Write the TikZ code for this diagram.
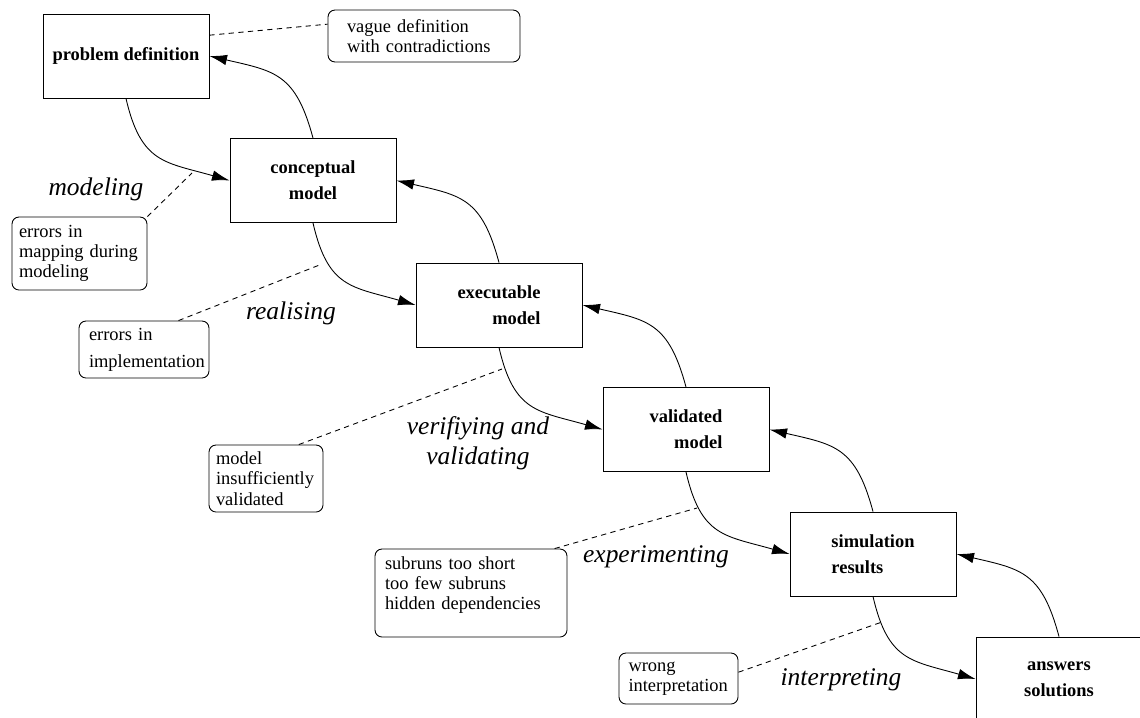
\documentclass[tikz,border=0pt]{standalone}
\usepackage{fontspec}
\setmainfont{Liberation Serif}
\usetikzlibrary{arrows.meta}
\hyphenpenalty=10000

\begin{document}
\begin{tikzpicture}[
	stage/.style={draw,line width=0.5pt,minimum width=3.32cm,minimum height=1.68cm,inner sep=0pt,align=center,font=\fontsize{10.5}{15}\selectfont\bfseries},
	note/.style={draw,line width=0.5pt,rounded corners=4pt,inner xsep=0.2cm,inner ysep=0pt,align=left,font=\fontsize{10.5}{11.5}\selectfont},
	act/.style={align=center,font=\fontsize{14.5}{17}\selectfont\itshape},
	flow/.style={-{Latex[length=10pt,width=6pt]},line width=0.5pt,looseness=1.3},
	link/.style={line width=0.5pt,dash pattern=on 3pt off 2.5pt}]
				\path[use as bounding box,clip] (0,0) rectangle (22.8,-14.34);
				% stages
				\node[stage] (problem) at (2.52,-1.12) {problem definition};
				\node[stage] (concept) at (6.26,-3.61) {conceptual\\model};
				\node[stage,align=right] (exec) at (9.98,-6.10) {executable\\model};
				\node[stage,align=right] (valid) at (13.72,-8.59) {validated\\model};
				\node[stage,align=left] (sim) at (17.46,-11.08) {simulation\\results};
				\node[stage] (answer) at (21.18,-13.58) {answers\\solutions};
				% activities
				\node[act] (modeling) at (1.92,-3.78) {modeling};
				\node[act] (realising) at (5.82,-6.26) {realising};
				\node[act] (verifying) at (9.56,-8.86) {verifiying and\\validating};
				\node[act] (experimenting) at (13.12,-11.14) {experimenting};
				\node[act] (interpreting) at (16.82,-13.6) {interpreting};
				% error notes
				\node[note,text width=3.08cm,inner xsep=0.38cm,minimum height=1.04cm] (vague) at (8.48,-0.72) {vague definition\\with contradictions};
				\node[note,text width=2.42cm,inner xsep=0.14cm,minimum height=1.46cm] (mapping) at (1.59,-5.07) {errors in\\mapping during\\modeling};
				\node[note,text width=2.2cm,minimum height=1.14cm] (impl) at (2.88,-6.99) {errors in\\[4pt]implementation};
				\node[note,text width=2cm,inner xsep=0.14cm,minimum height=1.34cm] (insuff) at (5.32,-9.57) {model\\insufficiently\\validated};
				\node[note,text width=3.44cm,minimum height=1.76cm] (subruns) at (9.42,-11.86) {subruns too short\\too few subruns\\hidden dependencies\\\mbox{}};
				\node[note,text width=2cm,inner xsep=0.19cm,minimum height=1.02cm] (wrong) at (13.57,-13.57) {wrong\\interpretation};
				\coordinate (m1) at (3.84,-3.46);
				\coordinate (m2) at (6.44,-5.28);
				\coordinate (m3) at (10.04,-7.38);
				\coordinate (m4) at (13.94,-10.16);
				\coordinate (m5) at (17.64,-12.44);
				% forward
				\draw[flow] (problem.south) to[out=-77,in=164] (concept.west);
				\draw[flow] (concept.south) to[out=-77,in=164] (exec.west);
				\draw[flow] (exec.south) to[out=-77,in=164] (valid.west);
				\draw[flow] (valid.south) to[out=-77,in=164] (sim.west);
				\draw[flow] (sim.south) to[out=-77,in=164] (answer.west);
				% back
				\draw[flow] (concept.north) to[out=105,in=-13] (problem.east);
				\draw[flow] (exec.north) to[out=105,in=-13] (concept.east);
				\draw[flow] (valid.north) to[out=105,in=-13] (exec.east);
				\draw[flow] (sim.north) to[out=105,in=-13] (valid.east);
				\draw[flow] (answer.north) to[out=105,in=-13] (sim.east);
				% notes
				\draw[link] (problem.14) -- (vague.173);
				\draw[link] (mapping.north east) -- (m1);
				\draw[link] (impl.40) -- (m2);
				\draw[link] (insuff.46) -- (m3);
				\draw[link] (subruns.28) -- (m4);
				\draw[link] (wrong.6) -- (m5);
			\end{tikzpicture}
\end{document}
